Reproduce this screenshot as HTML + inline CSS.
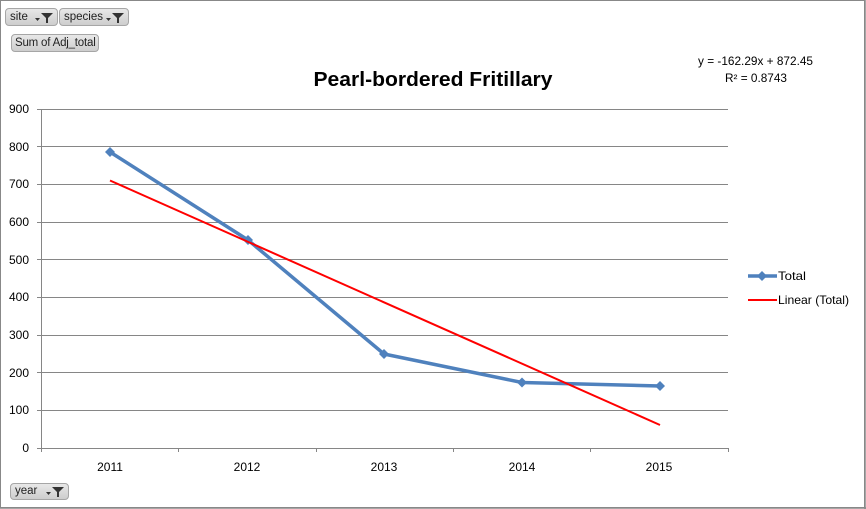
<!DOCTYPE html>
<html><head><meta charset="utf-8"><style>
html,body{margin:0;padding:0;background:#fff;}
.wrap{position:relative;width:866px;height:509px;overflow:hidden;background:#fff;}
.btn{position:absolute;box-sizing:border-box;border:1px solid #a6a6a6;border-radius:4px;background:linear-gradient(#e8e8e8,#cdcdcd);font-family:"Liberation Sans",sans-serif;font-size:11.5px;color:#222;line-height:16px;padding-left:4px;white-space:nowrap;overflow:hidden;}
.btn svg{position:absolute;right:3px;top:2px;}
</style></head><body><div class="wrap">
<svg width="866" height="509" xmlns="http://www.w3.org/2000/svg" style="position:absolute;left:0;top:0">
<rect x="0.5" y="0.5" width="864" height="507" fill="#fff" stroke="#888" stroke-width="1"/>
<line x1="865" y1="0" x2="865" y2="509" stroke="#888" stroke-width="1.5"/>
<line x1="0" y1="508" x2="866" y2="508" stroke="#888" stroke-width="1.5"/>
<g stroke="#868686" stroke-width="1">
<line x1="37" y1="109.5" x2="728" y2="109.5"/>
<line x1="37" y1="146.5" x2="728" y2="146.5"/>
<line x1="37" y1="184.5" x2="728" y2="184.5"/>
<line x1="37" y1="222.5" x2="728" y2="222.5"/>
<line x1="37" y1="259.5" x2="728" y2="259.5"/>
<line x1="37" y1="297.5" x2="728" y2="297.5"/>
<line x1="37" y1="335.5" x2="728" y2="335.5"/>
<line x1="37" y1="372.5" x2="728" y2="372.5"/>
<line x1="37" y1="410.5" x2="728" y2="410.5"/>
<line x1="37" y1="448.5" x2="728.5" y2="448.5"/>
<line x1="41.5" y1="109" x2="41.5" y2="448"/>
<line x1="178.5" y1="448" x2="178.5" y2="452"/>
<line x1="316.5" y1="448" x2="316.5" y2="452"/>
<line x1="453.5" y1="448" x2="453.5" y2="452"/>
<line x1="590.5" y1="448" x2="590.5" y2="452"/>
<line x1="728.5" y1="448" x2="728.5" y2="452"/>
<line x1="41.5" y1="448" x2="41.5" y2="452"/>
</g>
<g font-family="Liberation Sans, sans-serif" font-size="12" fill="#000" text-anchor="end">
<text x="29" y="113">900</text>
<text x="29" y="151">800</text>
<text x="29" y="188">700</text>
<text x="29" y="226">600</text>
<text x="29" y="264">500</text>
<text x="29" y="301">400</text>
<text x="29" y="339">300</text>
<text x="29" y="377">200</text>
<text x="29" y="414">100</text>
<text x="29" y="452">0</text>
</g>
<g font-family="Liberation Sans, sans-serif" font-size="12" fill="#000" text-anchor="middle">
<text x="110" y="471">2011</text>
<text x="247" y="471">2012</text>
<text x="384" y="471">2013</text>
<text x="522" y="471">2014</text>
<text x="659" y="471">2015</text>
</g>
<polyline points="110,152 248,240 384,354 522,382.5 660,386" fill="none" stroke="#4f81bd" stroke-width="3.5" stroke-linejoin="round"/>
<g fill="#4f81bd">
<polygon points="110,147 115,152 110,157 105,152"/>
<polygon points="248,235 253,240 248,245 243,240"/>
<polygon points="384,349 389,354 384,359 379,354"/>
<polygon points="522,377.5 527,382.5 522,387.5 517,382.5"/>
<polygon points="660,381 665,386 660,391 655,386"/>
</g>
<line x1="110" y1="180.5" x2="660" y2="425" stroke="#ff0000" stroke-width="2"/>
<text x="433" y="86" font-family="Liberation Sans, sans-serif" font-size="20" font-weight="bold" text-anchor="middle" textLength="239" lengthAdjust="spacingAndGlyphs">Pearl-bordered Fritillary</text>
<text x="698" y="65" font-family="Liberation Sans, sans-serif" font-size="11.5" textLength="115" lengthAdjust="spacingAndGlyphs">y = -162.29x + 872.45</text>
<text x="725" y="82" font-family="Liberation Sans, sans-serif" font-size="11.5" textLength="62" lengthAdjust="spacingAndGlyphs">R² = 0.8743</text>
<line x1="748" y1="276" x2="777" y2="276" stroke="#4f81bd" stroke-width="3.5"/>
<polygon points="762,271 767,276 762,281 757,276" fill="#4f81bd"/>
<text x="778" y="280" font-family="Liberation Sans, sans-serif" font-size="12" textLength="28" lengthAdjust="spacingAndGlyphs">Total</text>
<line x1="748" y1="300" x2="777" y2="300" stroke="#ff0000" stroke-width="2"/>
<text x="778" y="304" font-family="Liberation Sans, sans-serif" font-size="12" textLength="71" lengthAdjust="spacingAndGlyphs">Linear (Total)</text>
</svg>
<div class="btn" style="left:5px;top:8px;width:53px;height:18px;">site<svg width="20" height="13" viewBox="0 0 20 13"><polygon points="1,7 6,7 3.5,10" fill="#333"/><polygon points="7,2 19,2 14,7 14,12 12,12 12,7" fill="#333"/></svg></div>
<div class="btn" style="left:59px;top:8px;width:70px;height:18px;">species<svg width="20" height="13" viewBox="0 0 20 13"><polygon points="1,7 6,7 3.5,10" fill="#333"/><polygon points="7,2 19,2 14,7 14,12 12,12 12,7" fill="#333"/></svg></div>
<div class="btn" style="left:11px;top:34px;width:88px;height:18px;padding-left:3px;letter-spacing:-0.2px;">Sum of Adj_total</div>
<div class="btn" style="left:10px;top:483px;width:59px;height:17px;line-height:15px;">year<svg width="20" height="13" viewBox="0 0 20 13" style="top:1px"><polygon points="1,7 6,7 3.5,10" fill="#333"/><polygon points="7,2 19,2 14,7 14,12 12,12 12,7" fill="#333"/></svg></div>
</div></body></html>
